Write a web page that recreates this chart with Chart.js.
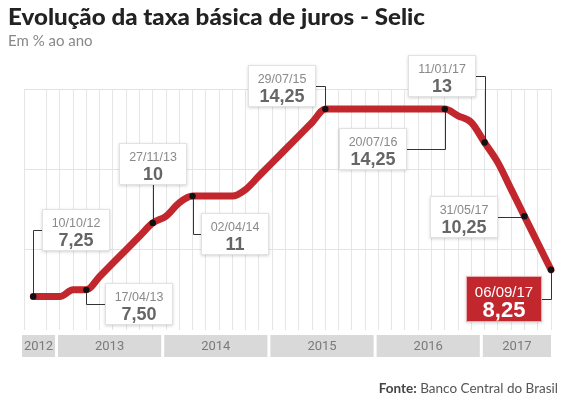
<!DOCTYPE html>
<html>
<head>
<meta charset="utf-8">
<script src="https://cdn.jsdelivr.net/npm/chart.js@4.4.1/dist/chart.umd.min.js"></script>
<style>
  body { margin:0; width:570px; height:400px; background:#fff; position:relative; overflow:hidden; }
  #grafico { position:absolute; left:0; top:0; }
  .txt { position:absolute; white-space:nowrap; font-family:Lato, "Open Sans", sans-serif; }
  #titulo { left:8px; top:4px; font-size:22px; line-height:26px; font-weight:900; color:#222; transform-origin:0 0; }
  #sub { left:8px; top:31px; font-size:15px; line-height:18px; color:#888; }
  #fonte { right:12px; top:380px; font-size:13.5px; line-height:16px; color:#555; }
  #fonte b { font-weight:700; color:#444; }
</style>
</head>
<body>
<canvas id="grafico" width="570" height="400"></canvas>
<div class="txt" id="titulo">Evolução da taxa básica de juros - Selic</div>
<div class="txt" id="sub">Em % ao ano</div>
<div class="txt" id="fonte"><b>Fonte:</b> Banco Central do Brasil</div>
<script>
// reunioes do Copom (out/2012 a set/2017)
const datas = ['10/10/12','28/11/12',
  '16/01/13','06/03/13','17/04/13','29/05/13','10/07/13','28/08/13','09/10/13','27/11/13',
  '15/01/14','26/02/14','02/04/14','28/05/14','16/07/14','03/09/14','29/10/14','03/12/14',
  '21/01/15','04/03/15','29/04/15','03/06/15','29/07/15','02/09/15','21/10/15','25/11/15',
  '20/01/16','02/03/16','27/04/16','08/06/16','20/07/16','31/08/16','19/10/16','30/11/16',
  '11/01/17','22/02/17','12/04/17','31/05/17','26/07/17','06/09/17'];
const selic = [7.25, 7.25,
  7.25, 7.5, 7.5, 8, 8.5, 9, 9.5, 10,
  10.25, 10.75, 11, 11, 11, 11, 11.25, 11.75,
  12.25, 12.75, 13.25, 13.75, 14.25, 14.25, 14.25, 14.25,
  14.25, 14.25, 14.25, 14.25, 14.25, 14.25, 14, 13.75,
  13, 12.25, 11.25, 10.25, 9.25, 8.25];
const anos = ['2012','2013','2014','2015','2016','2017'];
const ticksY = [6, 9, 12, 15];
// pontos destacados
const destaqueIdx = [0, 4, 9, 12, 22, 31, 34, 37, 39];
const destaqueData = ['10/10/12','17/04/13','27/11/13','02/04/14','29/07/15','20/07/16','11/01/17','31/05/17','06/09/17'];

// deslocamento das caixas em relacao ao ponto (centro da caixa)
const caixas = [[43,-67],[53,14],[0,-59],[42,38],[-43,-23],[-72,40],[-43,-67],[-60,1],[-47,29]];

const RED = '#c1272d';
const fmt = v => Number.isInteger(v) ? String(v) : v.toFixed(2).replace('.', ',');

const faixaAnos = {
  id: 'faixaAnos',
  afterDraw(chart) {
    const {ctx, scales: {x}} = chart;
    const lim = anos.map((a, k) => k === 0 ? x.min : datas.findIndex(d => d.endsWith('/' + a.slice(2))) - 0.25);
    lim.push(x.max);
    ctx.save();
    ctx.font = '13px "Liberation Sans Narrow", Roboto, sans-serif';
    ctx.textAlign = 'center';
    ctx.textBaseline = 'middle';
    anos.forEach((a, k) => {
      const x0 = x.getPixelForValue(lim[k]) + (k === 0 ? -2 : 1.5);
      const x1 = x.getPixelForValue(lim[k + 1]) - (k === anos.length - 1 ? 0 : 1.5);
      ctx.fillStyle = '#d9d9d9';
      ctx.fillRect(x0, 335, x1 - x0, 22);
      ctx.fillStyle = '#7a7a7a';
      ctx.fillText(a, (x0 + x1) / 2, 347);
    });
    ctx.restore();
  }
};

const destaques = {
  id: 'destaques',
  afterDatasetsDraw(chart) {
    const {ctx} = chart;
    const pts = chart.getDatasetMeta(0).data;
    ctx.save();
    destaqueIdx.forEach((i, k) => {
      const p = pts[i];
      const cx = p.x + caixas[k][0], cy = p.y + caixas[k][1];
      const ultimo = k === destaqueIdx.length - 1;
      const w = ultimo ? 76 : 68, h = ultimo ? 46 : 42;
      // linha guia
      ctx.strokeStyle = '#333';
      ctx.lineWidth = 1;
      ctx.beginPath();
      ctx.moveTo(Math.round(p.x) + 0.5, p.y);
      ctx.lineTo(Math.round(p.x) + 0.5, Math.round(cy) + 0.5);
      ctx.lineTo(cx, Math.round(cy) + 0.5);
      ctx.stroke();
      // caixa
      const bx = Math.round(cx - w / 2), by = Math.round(cy - h / 2);
      ctx.shadowColor = 'rgba(0,0,0,0.18)';
      ctx.shadowBlur = 3;
      ctx.shadowOffsetY = 1;
      ctx.fillStyle = ultimo ? RED : '#fff';
      ctx.fillRect(bx, by, w, h);
      ctx.shadowColor = 'transparent';
      ctx.strokeStyle = ultimo ? '#e8b0b2' : '#e2e2e2';
      ctx.strokeRect(bx + 0.5, by + 0.5, w - 1, h - 1);
      // textos
      ctx.textAlign = 'center';
      ctx.textBaseline = 'alphabetic';
      if (ultimo) {
        ctx.fillStyle = '#fff';
        ctx.font = '15px "Liberation Sans", Arial, sans-serif';
        ctx.fillText(destaqueData[k], bx + w / 2, by + 21);
        ctx.font = 'bold 22px "Liberation Sans", Arial, sans-serif';
        ctx.fillText(fmt(selic[i]), bx + w / 2, by + 41);
      } else {
        ctx.fillStyle = '#8a8a8a';
        ctx.font = '12.5px "Liberation Sans", Arial, sans-serif';
        ctx.fillText(destaqueData[k], bx + w / 2, by + 18);
        ctx.fillStyle = '#666';
        ctx.font = 'bold 18px "Liberation Sans", Arial, sans-serif';
        ctx.fillText(fmt(selic[i]), bx + w / 2, by + 37);
      }
    });
    // pontos
    ctx.fillStyle = '#111';
    destaqueIdx.forEach(i => {
      ctx.beginPath();
      ctx.arc(pts[i].x, pts[i].y, 3.2, 0, Math.PI * 2);
      ctx.fill();
    });
    ctx.restore();
  }
};

new Chart(document.getElementById('grafico'), {
  type: 'line',
  data: {
    datasets: [{
      data: selic.map((v, i) => ({x: i, y: v})),
      borderColor: RED,
      borderWidth: 7,
      pointRadius: 0,
      cubicInterpolationMode: 'monotone',
      borderJoinStyle: 'round',
      borderCapStyle: 'round',
      clip: false
    }]
  },
  options: {
    responsive: false,
    animation: false,
    layout: {padding: {left: 24, right: 19, top: 89, bottom: 70}},
    plugins: {legend: {display: false}, tooltip: {enabled: false}},
    scales: {
      x: {
        type: 'linear', min: -0.7, max: datas.length - 1,
        ticks: {display: false, stepSize: 1},
        grid: {color: '#e6e6e6', drawTicks: false},
        border: {display: false}
      },
      y: {
        min: ticksY[0], max: ticksY[ticksY.length - 1],
        afterBuildTicks: s => { s.ticks = ticksY.map(v => ({value: v})); },
        ticks: {display: false},
        grid: {color: c => c.tick.value === ticksY[0] ? 'rgba(0,0,0,0)' : '#e3e3e3', drawTicks: false},
        border: {display: false}
      }
    }
  },
  plugins: [faixaAnos, destaques]
});

// ajusta largura do titulo
const t = document.getElementById('titulo');
const tw = t.getBoundingClientRect().width;
t.style.transform = 'scaleX(' + (417 / tw) + ')';
</script>
</body>
</html>
